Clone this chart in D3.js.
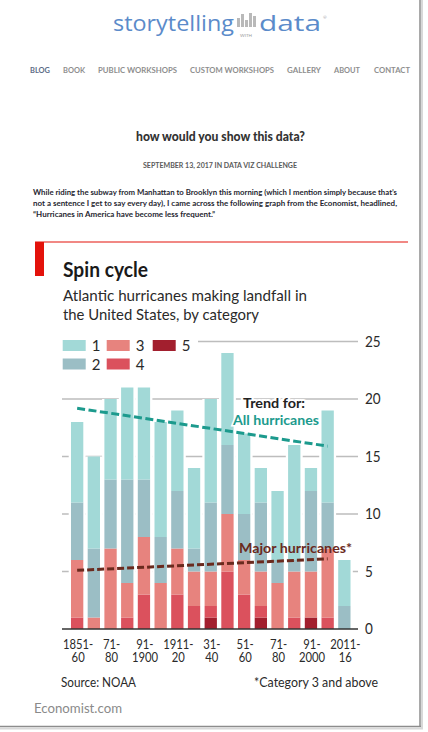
<!DOCTYPE html>
<html><head><meta charset="utf-8">
<script src="https://cdn.jsdelivr.net/npm/d3@7"></script>
<style>
body{margin:0;background:#fff}
svg{display:block}
</style>
</head><body>
<svg id="c" width="428" height="732"></svg>
<script>
// ---------- DATA ----------
const categories = ["1851-60","1861-70","1871-80","1881-90","1891-1900","1901-10","1911-20","1921-30","1931-40","1941-50","1951-60","1961-70","1971-80","1981-90","1991-2000","2001-10","2011-16"];
const cat1 = [7,8,7,8,8,10,7,7,9,8,7,3,6,10,2,8,4];
const cat2 = [5,6,6,9,5,4,5,2,6,6,4,6,2,1,7,4,2];
const cat3 = [5,1,7,3,5,4,4,3,3,5,3,3,4,4,4,6,0];
const cat4 = [1,0,0,1,3,0,3,2,1,5,3,1,0,1,0,1,0];
const cat5 = [0,0,0,0,0,0,0,0,1,0,0,1,0,0,1,0,0];
const xTickTop    = ["1851-","","71-","","91-","","1911-","","31-","","51-","","71-","","91-","","2011-"];
const xTickBottom = ["60","","80","","1900","","20","","40","","60","","80","","2000","","16"];
const yTicks = [0,5,10,15,20,25];
const trendCats = ["1851-60","2001-10"];
const trendAll = [19.2,15.9];
const trendMajor = [5.1,6.1];
const legendItems = [["1","c1"],["3","c3"],["5","c5"],["2","c2"],["4","c4"]];

// ---------- STYLE ----------
const colors = {c1:"#a2d9d7", c2:"#9bbec5", c3:"#e7837e", c4:"#db515d", c5:"#a21f2e"};
const svg = d3.select("#c");
const FONT = "Lato, 'Noto Sans', sans-serif";
const CF = "Lato, 'Open Sans', sans-serif";
function condense(sel, f){ sel.each(function(){ const w=this.getComputedTextLength(); d3.select(this).attr("textLength",w*f).attr("lengthAdjust","spacingAndGlyphs"); }); }

// ---------- PAGE CHROME ----------
svg.append("line").attr("x1",420).attr("x2",420).attr("y1",0).attr("y2",727).attr("stroke","#8c8c8c").attr("stroke-width",1.5);
svg.append("line").attr("x1",0).attr("x2",421).attr("y1",726.5).attr("y2",726.5).attr("stroke","#8c8c8c").attr("stroke-width",1.5);
svg.append("line").attr("x1",422).attr("x2",422).attr("y1",0).attr("y2",729).attr("stroke","#d8d8d8").attr("stroke-width",2);
svg.append("line").attr("x1",0).attr("x2",423).attr("y1",728.5).attr("y2",728.5).attr("stroke","#d8d8d8").attr("stroke-width",2);

// logo
const logo = svg.append("g");
logo.append("text").attr("x",113).attr("y",31).attr("font-family","'Open Sans', sans-serif").attr("font-size",22)
  .attr("fill","#5b8bca").attr("textLength",121).attr("lengthAdjust","spacingAndGlyphs").text("storytelling");
[[237,18,9],[241,14,13],[245,20,7],[249,13,14],[253,16,11]].forEach(([x,y,h])=>{
  logo.append("rect").attr("x",x).attr("y",y).attr("width",3).attr("height",h).attr("fill","#b9b9b9");
});
logo.append("text").attr("x",246).attr("y",36.5).attr("text-anchor","middle").attr("font-family",FONT).attr("font-size",4.5)
  .attr("fill","#9a9a9a").text("WITH");
logo.append("text").attr("x",259).attr("y",31).attr("font-family","'Open Sans', sans-serif").attr("font-size",22)
  .attr("fill","#5b8bca").attr("textLength",62).attr("lengthAdjust","spacingAndGlyphs").text("data");
logo.append("text").attr("x",323).attr("y",19).attr("font-family",FONT).attr("font-size",4.5).attr("fill","#9a9a9a").text("®");

// nav
const nav = [["BLOG",30,20,"#5c6b86"],["BOOK",63,22,"#8e8e8e"],["PUBLIC WORKSHOPS",98,79,"#8e8e8e"],["CUSTOM WORKSHOPS",190,84,"#8e8e8e"],["GALLERY",287,34,"#8e8e8e"],["ABOUT",334,26,"#8e8e8e"],["CONTACT",374,36,"#8e8e8e"]];
nav.forEach(([t,x,w,c])=>{
  svg.append("text").attr("x",x).attr("y",72.5).attr("font-family",FONT).attr("font-weight",700).attr("font-size",7)
    .attr("fill",c).attr("textLength",w).attr("lengthAdjust","spacingAndGlyphs").text(t);
});

// post heading
svg.append("text").attr("x",136).attr("y",140.5).attr("font-family",FONT).attr("font-weight",900).attr("font-size",12.5)
  .attr("fill","#333").attr("textLength",169).attr("lengthAdjust","spacingAndGlyphs").text("how would you show this data?");
svg.append("text").attr("x",143).attr("y",167.5).attr("font-family",FONT).attr("font-weight",700).attr("font-size",6.5)
  .attr("fill","#5a5a5a").attr("textLength",154).attr("lengthAdjust","spacingAndGlyphs").text("SEPTEMBER 13, 2017 IN DATA VIZ CHALLENGE");
const para = [
  ["While riding the subway from Manhattan to Brooklyn this morning (which I mention simply because that\u2019s",194.5,364],
  ["not a sentence I get to say every day), I came across the following graph from the Economist, headlined,",205.5,364],
  ["\u201cHurricanes in America have become less frequent.\u201d",216.8,182]
];
para.forEach(([t,y,w])=>{
  svg.append("text").attr("x",33).attr("y",y).attr("font-family",FONT).attr("font-weight",700).attr("font-size",7.3)
    .attr("fill","#262630").attr("textLength",w).attr("lengthAdjust","spacingAndGlyphs").text(t);
});

// Economist red rule + tag
svg.append("line").attr("x1",35).attr("x2",408).attr("y1",242).attr("y2",242).attr("stroke","#e3120b").attr("stroke-width",1.2);
svg.append("rect").attr("x",35).attr("y",242).attr("width",9).attr("height",34).attr("fill","#e3120b");

// chart titles
svg.append("text").attr("x",63).attr("y",277).attr("font-family",CF).attr("font-weight",700).attr("font-size",20)
  .attr("fill","#1a1a1a").attr("textLength",85).attr("lengthAdjust","spacingAndGlyphs").text("Spin cycle");
svg.append("text").attr("x",63).attr("y",301).attr("font-family",CF).attr("font-size",16)
  .attr("fill","#2a2a2a").attr("textLength",244).attr("lengthAdjust","spacingAndGlyphs").text("Atlantic hurricanes making landfall in");
svg.append("text").attr("x",63).attr("y",319.5).attr("font-family",CF).attr("font-size",16)
  .attr("fill","#2a2a2a").attr("textLength",196).attr("lengthAdjust","spacingAndGlyphs").text("the United States, by category");

// ---------- SCALES ----------
const x = d3.scaleBand().domain(categories).range([66.6,354.9]).paddingInner(0.263).paddingOuter(0.263);
const y = d3.scaleLinear().domain([0,25]).range([629,341.5]);

const table = categories.map((c,i)=>({cat:c,c1:cat1[i],c2:cat2[i],c3:cat3[i],c4:cat4[i],c5:cat5[i]}));
const keys = ["c5","c4","c3","c2","c1"];
const series = d3.stack().keys(keys)(table);
const total = d => keys.reduce((s,k)=>s+d[k],0);

// gridlines
const grid = svg.append("g");
yTicks.filter(v=>v>0).forEach(v=>{
  grid.append("line").attr("x1", v===25 ? 198 : 62).attr("x2",358).attr("y1",y(v)).attr("y2",y(v))
    .attr("stroke","#bdbdbd").attr("stroke-width",1.4);
});

// white backing behind bars (hides gridlines in gaps)
svg.append("g").selectAll("rect").data(table).join("rect")
  .attr("x",d=>x(d.cat)-2.3).attr("width",x.bandwidth()+4.6)
  .attr("y",d=>y(total(d))).attr("height",d=>y(0)-y(total(d)))
  .attr("fill","#fff");

// bars
svg.append("g").selectAll("g").data(series).join("g").attr("fill",s=>colors[s.key])
  .selectAll("rect").data(s=>s).join("rect")
  .attr("x",d=>x(d.data.cat)).attr("width",x.bandwidth())
  .attr("y",d=>y(d[1])).attr("height",d=>Math.max(0,y(d[0])-y(d[1])));

// axis baseline
svg.append("line").attr("x1",62).attr("x2",358).attr("y1",y(0)).attr("y2",y(0)).attr("stroke","#333").attr("stroke-width",1.5);

// y axis labels (right)
const yAxis = d3.axisRight(y).tickValues(yTicks).tickSize(0).tickPadding(0);
const ya = svg.append("g").attr("transform","translate(365,0)").call(yAxis);
ya.select(".domain").remove();
ya.selectAll("text").attr("font-family",CF).attr("font-size",15).attr("fill","#2a2a2a");
condense(ya.selectAll("text"),0.9);

// x axis labels (two lines in one text)
const xa = svg.append("g");
categories.forEach((c,i)=>{
  if(!xTickTop[i]) return;
  const cx = x(c)+x.bandwidth()/2+1;
  const t = xa.append("text").attr("text-anchor","middle").attr("font-family",CF).attr("font-size",12.5).attr("fill","#2a2a2a");
  const t1 = t.append("tspan").attr("x",cx).attr("y",649).text(xTickTop[i]);
  const t2 = t.append("tspan").attr("x",cx).attr("y",661.5).text(xTickBottom[i]);
  [t1,t2].forEach(s=>{ const w=s.node().getComputedTextLength(); s.attr("textLength",w*0.9).attr("lengthAdjust","spacingAndGlyphs"); });
});

// trend lines
const line = d3.line().x(d=>x(d[0])+x.bandwidth()/2).y(d=>y(d[1]));
svg.append("path").attr("d",line(trendCats.map((c,i)=>[c,trendAll[i]])))
  .attr("fill","none").attr("stroke","#1c9a8d").attr("stroke-width",3).attr("stroke-dasharray","8,3.5");
svg.append("path").attr("d",line(trendCats.map((c,i)=>[c,trendMajor[i]])))
  .attr("fill","none").attr("stroke","#6a2a1e").attr("stroke-width",3).attr("stroke-dasharray","7,3");

// annotations
svg.append("text").attr("x",243).attr("y",407.5).attr("font-family",CF).attr("font-weight",700).attr("font-size",13)
  .attr("fill","#222").attr("stroke","#fff").attr("stroke-width",4).attr("paint-order","stroke")
  .attr("textLength",62).attr("lengthAdjust","spacingAndGlyphs").text("Trend for:");
svg.append("text").attr("x",233).attr("y",424.5).attr("font-family",CF).attr("font-weight",700).attr("font-size",13)
  .attr("fill","#1c9a8d").attr("stroke","#fff").attr("stroke-width",3).attr("paint-order","stroke")
  .attr("textLength",86).attr("lengthAdjust","spacingAndGlyphs").text("All hurricanes");
svg.append("text").attr("x",239).attr("y",552.5).attr("font-family",CF).attr("font-weight",700).attr("font-size",13)
  .attr("fill","#6a2a1e").attr("textLength",113).attr("lengthAdjust","spacingAndGlyphs").text("Major hurricanes*");

// legend
const lg = svg.append("g");
const legendPos = [[62.7,340],[106.7,340],[152.7,340],[62.7,358.5],[106.7,358.5]];
legendItems.forEach(([lab,key],i)=>{
  const [lx,ly] = legendPos[i];
  lg.append("rect").attr("x",lx).attr("y",ly).attr("width",23).attr("height",11).attr("fill",colors[key]);
  lg.append("text").attr("x",lx+29).attr("y",ly+11).attr("font-family",CF).attr("font-size",15).attr("fill","#2a2a2a").text(lab);
});

// footer
svg.append("text").attr("x",61).attr("y",686.5).attr("font-family",CF).attr("font-size",13).attr("fill","#2a2a2a")
  .attr("textLength",75).attr("lengthAdjust","spacingAndGlyphs").text("Source: NOAA");
svg.append("text").attr("x",254).attr("y",686.5).attr("font-family",CF).attr("font-size",13).attr("fill","#2a2a2a")
  .attr("textLength",124).attr("lengthAdjust","spacingAndGlyphs").text("*Category 3 and above");
svg.append("text").attr("x",34).attr("y",712.5).attr("font-family",CF).attr("font-size",13).attr("fill","#8a8a8a")
  .attr("textLength",88).attr("lengthAdjust","spacingAndGlyphs").text("Economist.com");
</script>
</body></html>
